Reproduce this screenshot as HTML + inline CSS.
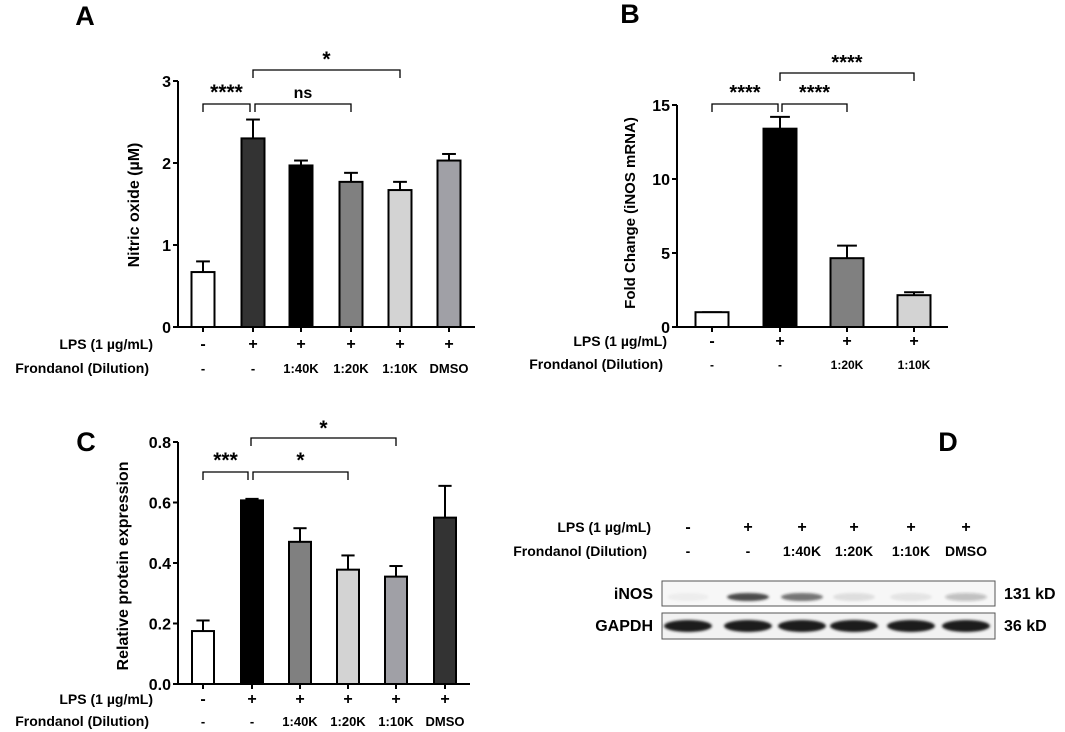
<!DOCTYPE html>
<html><head><meta charset="utf-8"><style>
body{margin:0;background:#fff;}
svg{display:block;font-family:"Liberation Sans",Arial,sans-serif;font-weight:bold;}
</style></head><body>
<svg id="fig" width="1065" height="732" viewBox="0 0 1065 732" xmlns="http://www.w3.org/2000/svg">
<defs><filter id="blur" x="-20%" y="-50%" width="140%" height="200%"><feGaussianBlur stdDeviation="1.2"/></filter></defs>
<g id="g"></g>
</svg>
<script>
// Panel A data
const aCats=["c1","c2","c3","c4","c5","c6"];
const aVals=[0.67,2.30,1.97,1.77,1.67,2.03];
const aErr=[0.13,0.23,0.06,0.11,0.10,0.08];
const aTicks=[0,1,2,3];
const aLps=["-","+","+","+","+","+"];
const aFr=["-","-","1:40K","1:20K","1:10K","DMSO"];
// Panel B data
const bVals=[1.0,13.4,4.65,2.15];
const bErr=[0,0.8,0.85,0.2];
const bTicks=[0,5,10,15];
const bLps=["-","+","+","+"];
const bFr=["-","-","1:20K","1:10K"];
// Panel C data
const cVals=[0.175,0.607,0.47,0.378,0.355,0.55];
const cErr=[0.035,0.005,0.045,0.047,0.035,0.105];
const cTicks=[0,0.2,0.4,0.6,0.8];
// Panel D lanes
const dLps=["-","+","+","+","+","+"];
const dFr=["-","-","1:40K","1:20K","1:10K","DMSO"];
const dInos=[0.04,0.8,0.6,0.1,0.08,0.25];

const NS="http://www.w3.org/2000/svg";
const G=document.getElementById('g');
function el(t,a,parent){const e=document.createElementNS(NS,t);for(const k in a)e.setAttribute(k,a[k]);(parent||G).appendChild(e);return e;}
function txt(x,y,s,size,anchor,name){const e=el('text',{x:x,y:y,'font-size':size,'text-anchor':anchor||'middle'});e.textContent=s;


return e;}

function panel(opt){
  const {ax,y0,yTop,max,xs,vals,errs,ticks,colors,bw,xEnd,tickFmt,pfx}=opt;
  const sy=v=>y0-(v/max)*(y0-yTop);
  vals.forEach((v,i)=>{
    const x=xs[i];
    const e=el('line',{x1:x,x2:x,y1:sy(v),y2:sy(v+errs[i]),stroke:'#000','stroke-width':2});
    
    
    const c=el('line',{x1:x-bw*0.3,x2:x+bw*0.3,y1:sy(v+errs[i]),y2:sy(v+errs[i]),stroke:'#000','stroke-width':2});
    
    
    const r=el('rect',{x:x-bw/2,y:sy(v),width:bw,height:y0-sy(v),fill:colors[i],stroke:'#000','stroke-width':2});
    
    
  });
  const ya=el('line',{x1:ax,x2:ax,y1:yTop,y2:y0+1,stroke:'#000','stroke-width':2});
  
  
  const xa=el('line',{x1:ax-4,x2:xEnd,y1:y0,y2:y0,stroke:'#000','stroke-width':2});
  
  
  ticks.forEach(t=>{
    const l=el('line',{x1:ax-5,x2:ax,y1:sy(t),y2:sy(t),stroke:'#000','stroke-width':2});
    
    
    txt(ax-7,sy(t)+6,tickFmt(t),16,'end',pfx+'-y-tick-label');
  });
  xs.forEach(x=>{
    const l=el('line',{x1:x,x2:x,y1:y0,y2:y0+5,stroke:'#000','stroke-width':2});
    
    
  });
  return sy;
}
function bracket(x1,x2,y,label,ly,size,pfx){
  const p=el('path',{d:`M${x1},${y+8}V${y}H${x2}V${y+8}`,fill:'none',stroke:'#000','stroke-width':1.3});
  
  
  txt((x1+x2)/2,ly,label,size||18,'middle',pfx+'-significance-label');
}
function rows(xs,lps,fr,y1,y2,lx,pfx,fs){
  txt(lx,y1,'LPS (1 µg/mL)',14,'end',pfx+'-lps-row-label');
  txt(lx-4,y2,'Frondanol (Dilution)',14,'end',pfx+'-frondanol-row-label');
  xs.forEach((x,i)=>{txt(x,y1,lps[i],16,'middle',pfx+'-lps-value');txt(x,y2,fr[i],fs||13,'middle',pfx+'-frondanol-value');});
}

// Panel A
const axs=[203,253,301,351,400,449];
txt(85,25,'A',27,'middle','panel-a-letter');
panel({ax:178,y0:327,yTop:81,max:3,xs:axs,vals:aVals,errs:aErr,ticks:aTicks,colors:['#fff','#333','#000','#808080','#d3d3d3','#a0a0a6'],bw:23,xEnd:475,tickFmt:t=>String(t),pfx:'a'});
bracket(203,250,104,'****',99,21,'a');
bracket(255,351,104,'ns',98,16,'a');
bracket(253,400,70,'*',66,21,'a');
const ya=txt(0,0,'Nitric oxide (µM)',16,'middle','a-y-axis-title');ya.setAttribute('transform','translate(139,205) rotate(-90)');
rows(axs,aLps,aFr,349,373,153,'a');

// Panel B
const bxs=[712,780,847,914];
txt(630,23,'B',27,'middle','panel-b-letter');
panel({ax:677,y0:327,yTop:105,max:15,xs:bxs,vals:bVals,errs:bErr,ticks:bTicks,colors:['#fff','#000','#808080','#d3d3d3'],bw:33,xEnd:948,tickFmt:t=>String(t),pfx:'b'});
bracket(712,778,104,'****',99,20,'b');
bracket(782,847,104,'****',99,20,'b');
bracket(780,914,73,'****',69,20,'b');
const yb=txt(0,0,'Fold Change (iNOS mRNA)',15,'middle','b-y-axis-title');yb.setAttribute('transform','translate(635,213) rotate(-90)');
rows(bxs,bLps,bFr,346,369,667,'b',12);

// Panel C
const cxs=[203,252,300,348,396,445];
txt(86,451,'C',27,'middle','panel-c-letter');
panel({ax:178,y0:684,yTop:442,max:0.8,xs:cxs,vals:cVals,errs:cErr,ticks:cTicks,colors:['#fff','#000','#808080','#d3d3d3','#a0a0a6','#333'],bw:22,xEnd:470,tickFmt:t=>t.toFixed(1),pfx:'c'});
bracket(203,248,472,'***',467,21,'c');
bracket(253,348,472,'*',467,21,'c');
bracket(251,396,438,'*',435,21,'c');
const yc=txt(0,0,'Relative protein expression',16,'middle','c-y-axis-title');yc.setAttribute('transform','translate(128,566) rotate(-90)');
rows(cxs,aLps,aFr,704,726,153,'c');

// Panel D
const dxs=[688,748,802,854,911,966];
txt(948,451,'D',27,'middle','panel-d-letter');
rows(dxs,dLps,dFr,532,556,651,'d',14);
const ib=el('rect',{x:662,y:581,width:333,height:25,fill:'#f7f7f7',stroke:'#555','stroke-width':1});


const gb=el('rect',{x:662,y:613,width:333,height:26,fill:'#f2f2f2',stroke:'#555','stroke-width':1});


dxs.forEach((x,i)=>{
  const a=el('ellipse',{cx:x,cy:597,rx:21,ry:4,fill:'#222','fill-opacity':dInos[i],filter:'url(#blur)'});
  
  
  const b=el('ellipse',{cx:x,cy:626,rx:24,ry:6,fill:'#1a1a1a',filter:'url(#blur)'});
  
  
});
txt(653,599,'iNOS',16,'end','inos-label');
txt(653,631,'GAPDH',16,'end','gapdh-label');
txt(1004,599,'131 kD',16,'start','inos-size-label');
txt(1004,631,'36 kD',16,'start','gapdh-size-label');
</script>
</body></html>
